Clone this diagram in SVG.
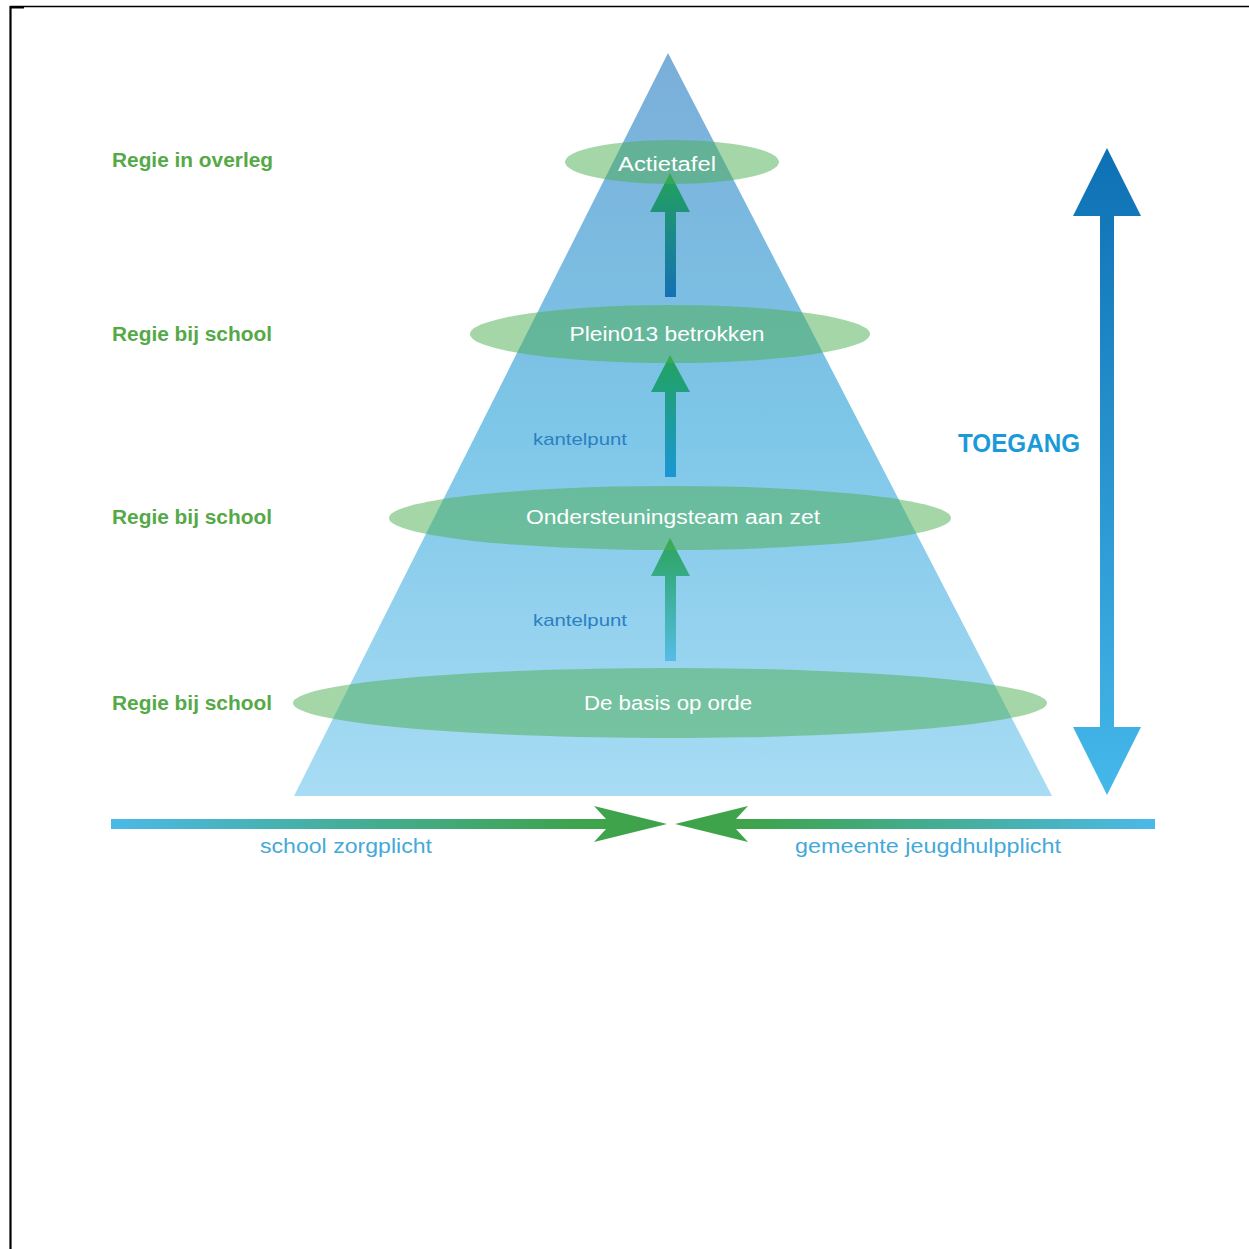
<svg xmlns="http://www.w3.org/2000/svg" width="1249" height="1249" viewBox="0 0 1249 1249">
  <defs>
    <linearGradient id="pyr" x1="0" y1="0" x2="0" y2="1">
      <stop offset="0" stop-color="#7aaed8"/>
      <stop offset="0.5" stop-color="#7dc6e8"/>
      <stop offset="1" stop-color="#a8dcf4"/>
    </linearGradient>
    <linearGradient id="a1" gradientUnits="userSpaceOnUse" x1="0" y1="173" x2="0" y2="297">
      <stop offset="0" stop-color="#22a35a"/>
      <stop offset="1" stop-color="#1570b5"/>
    </linearGradient>
    <linearGradient id="a2" gradientUnits="userSpaceOnUse" x1="0" y1="355" x2="0" y2="477">
      <stop offset="0" stop-color="#22a35a"/>
      <stop offset="1" stop-color="#1a96d6"/>
    </linearGradient>
    <linearGradient id="a3" gradientUnits="userSpaceOnUse" x1="0" y1="538" x2="0" y2="661">
      <stop offset="0" stop-color="#2aa45a"/>
      <stop offset="1" stop-color="#55bde6"/>
    </linearGradient>
    <linearGradient id="tg" gradientUnits="userSpaceOnUse" x1="0" y1="148" x2="0" y2="795">
      <stop offset="0" stop-color="#0d70b4"/>
      <stop offset="1" stop-color="#45b8ea"/>
    </linearGradient>
    <linearGradient id="hl" gradientUnits="userSpaceOnUse" x1="111" y1="0" x2="667" y2="0">
      <stop offset="0" stop-color="#4bb9e8"/>
      <stop offset="0.85" stop-color="#3ea34a"/>
    </linearGradient>
    <linearGradient id="hr" gradientUnits="userSpaceOnUse" x1="1155" y1="0" x2="675" y2="0">
      <stop offset="0" stop-color="#4bb9e8"/>
      <stop offset="0.85" stop-color="#3ea34a"/>
    </linearGradient>
    <style>
      .ell { fill: #4cad50; fill-opacity: 0.5; }
      .lbl { font-family: "Liberation Sans", Arial, sans-serif; font-size: 20px; font-weight: bold; fill: #55a947; }
      .wt { font-family: "Liberation Sans", Arial, sans-serif; font-size: 20px; fill: #ffffff; text-anchor: middle; }
      .kp { font-family: "Liberation Sans", Arial, sans-serif; font-size: 17px; fill: #2b80c0; }
      .bt { font-family: "Liberation Sans", Arial, sans-serif; font-size: 20px; fill: #45a9d8; }
    </style>
  </defs>

  <rect width="1249" height="1249" fill="#ffffff"/>
  <g id="frame" stroke="#000" fill="none">
    <line x1="10" y1="6.5" x2="1249" y2="6.5" stroke-width="1.4"/>
    <line x1="10.5" y1="6" x2="10.5" y2="1249" stroke-width="2.2"/>
    <line x1="10" y1="7.5" x2="24" y2="7.5" stroke-width="2"/>
  </g>

  <g id="pyramid">
    <polygon points="668,53 1052,796 294,796" fill="url(#pyr)"/>
  </g>

  <g id="connectors">
    <polygon points="665,297 665,212 650,212 670,173 690,212 676,212 676,297" fill="url(#a1)"/>
    <polygon points="665,477 665,392 651,392 670,355 690,392 676,392 676,477" fill="url(#a2)"/>
    <polygon points="665,661 665,576 651,576 670,538 690,576 676,576 676,661" fill="url(#a3)"/>
    <polygon points="1100,795 1100,216 1073,216 1107,148 1141,216 1114,216 1114,727 1141,727 1107,795 1073,727 1100,727" fill="url(#tg)"/>
    <polygon points="111,819 606,819 594,806 667,824 594,842 606,829 111,829" fill="url(#hl)"/>
    <polygon points="1155,819 736,819 748,806 675,824 748,842 736,829 1155,829" fill="url(#hr)"/>
  </g>

  <g id="node-actietafel">
    <ellipse class="ell" cx="672" cy="162" rx="107" ry="22"/>
    <text class="wt" x="667" y="171" textLength="98" lengthAdjust="spacingAndGlyphs">Actietafel</text>
  </g>
  <g id="node-plein013">
    <ellipse class="ell" cx="670" cy="334" rx="200" ry="29"/>
    <text class="wt" x="667" y="341" textLength="195" lengthAdjust="spacingAndGlyphs">Plein013 betrokken</text>
  </g>
  <g id="node-ondersteuningsteam">
    <ellipse class="ell" cx="670" cy="518" rx="281" ry="32"/>
    <text class="wt" x="673" y="524" textLength="294" lengthAdjust="spacingAndGlyphs">Ondersteuningsteam aan zet</text>
  </g>
  <g id="node-basis">
    <ellipse class="ell" cx="670" cy="703" rx="377" ry="35"/>
    <text class="wt" x="668" y="710" textLength="168" lengthAdjust="spacingAndGlyphs">De basis op orde</text>
  </g>

  <g id="labels">
    <text class="lbl" x="112" y="167" textLength="161" lengthAdjust="spacingAndGlyphs">Regie in overleg</text>
    <text class="lbl" x="112" y="341" textLength="160" lengthAdjust="spacingAndGlyphs">Regie bij school</text>
    <text class="lbl" x="112" y="524" textLength="160" lengthAdjust="spacingAndGlyphs">Regie bij school</text>
    <text class="lbl" x="112" y="710" textLength="160" lengthAdjust="spacingAndGlyphs">Regie bij school</text>
    <text class="kp" x="533" y="445" textLength="94" lengthAdjust="spacingAndGlyphs">kantelpunt</text>
    <text class="kp" x="533" y="626" textLength="94" lengthAdjust="spacingAndGlyphs">kantelpunt</text>
    <text x="958" y="452" font-family="Liberation Sans, Arial, sans-serif" font-size="26" font-weight="bold" fill="#1a9ad8" textLength="122" lengthAdjust="spacingAndGlyphs">TOEGANG</text>
    <text class="bt" x="260" y="853" textLength="172" lengthAdjust="spacingAndGlyphs">school zorgplicht</text>
    <text class="bt" x="795" y="853" textLength="266" lengthAdjust="spacingAndGlyphs">gemeente jeugdhulpplicht</text>
  </g>
</svg>
